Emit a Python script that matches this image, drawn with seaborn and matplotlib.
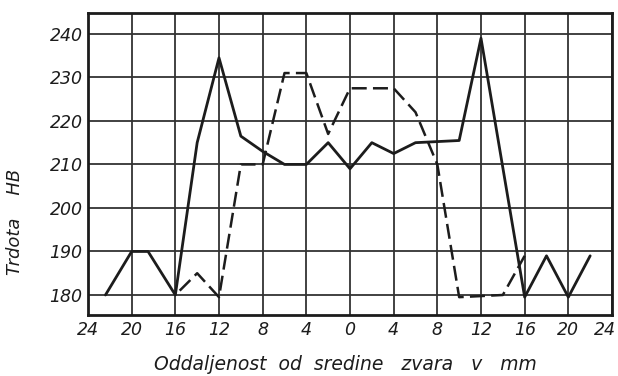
import matplotlib
matplotlib.use("Agg")
import matplotlib.pyplot as plt
import matplotlib.transforms as mtransforms
import seaborn as sns
import pandas as pd

# Solid series (hardness along one line)
solid_x = [-22.4, -20, -18.5, -16, -14, -12, -10, -8, -6, -4, -2, 0, 2, 4, 6, 10, 12, 16, 18, 20, 22]
solid_y = [180, 190, 190, 180, 215, 234.5, 216.5, 213, 210, 210, 215, 209, 215, 212.5, 215, 215.5, 239, 179.5, 189, 179.5, 189]

# Dashed series
dashed_x = [-15.6, -14, -12, -10, -8, -6, -4, -2, 0, 4, 6, 8, 10, 14, 16]
dashed_y = [181, 185, 179.5, 210, 210, 231, 231, 217, 227.5, 227.5, 222, 210, 179.5, 180, 189]

x_ticks = [-24, -20, -16, -12, -8, -4, 0, 4, 8, 12, 16, 20, 24]
x_tick_labels = ["24", "20", "16", "12", "8", "4", "0", "4", "8", "12", "16", "20", "24"]
y_ticks = [180, 190, 200, 210, 220, 230, 240]

sns.set_style("white")
plt.rcParams['font.family'] = ['DejaVu Sans']

fig = plt.figure(figsize=(6.18, 3.76), dpi=100)
fig.patch.set_facecolor("white")
ax = fig.add_axes([88/618, 1 - 315/376, 524/618, 302/376])

df_s = pd.DataFrame({"x": solid_x, "y": solid_y})
df_d = pd.DataFrame({"x": dashed_x, "y": dashed_y})

ink = "#1c1c1c"
sns.lineplot(data=df_s, x="x", y="y", ax=ax, color=ink, linewidth=2.0,
             sort=False, estimator=None)
sns.lineplot(data=df_d, x="x", y="y", ax=ax, color=ink, linewidth=1.8,
             sort=False, estimator=None, linestyle=(0, (6, 2.5)))

ax.set_xlim(-24, 24)
ax.set_ylim(175.4, 244.8)
ax.set_xticks(x_ticks)
ax.set_xticklabels(x_tick_labels)
ax.set_yticks(y_ticks)
ax.grid(True, color="#333333", linewidth=1.3)
ax.set_axisbelow(True)
for s in ax.spines.values():
    s.set_color(ink)
    s.set_linewidth(2.0)
    s.set_visible(True)
ax.tick_params(axis="both", length=0, pad=4, labelsize=12.5, colors=ink)
for lab in ax.get_xticklabels() + ax.get_yticklabels():
    lab.set_fontstyle("italic")

last = ax.get_xticklabels()[-1]
last.set_transform(last.get_transform() +
                   mtransforms.ScaledTranslation(-5/72, 0, fig.dpi_scale_trans))

ax.set_xlabel("")
ax.set_ylabel("")
fig.text(15/618, 1 - 222/376, "Trdota    HB", rotation=90, ha="center", va="center",
         fontsize=13, fontstyle="italic", color=ink)
fig.text(345/618, 1 - 364/376, "Oddaljenost  od  sredine   zvara   v   mm",
         ha="center", va="center", fontsize=13.5, fontstyle="italic", color=ink)

fig.savefig("out.png", dpi=100, facecolor="white")
